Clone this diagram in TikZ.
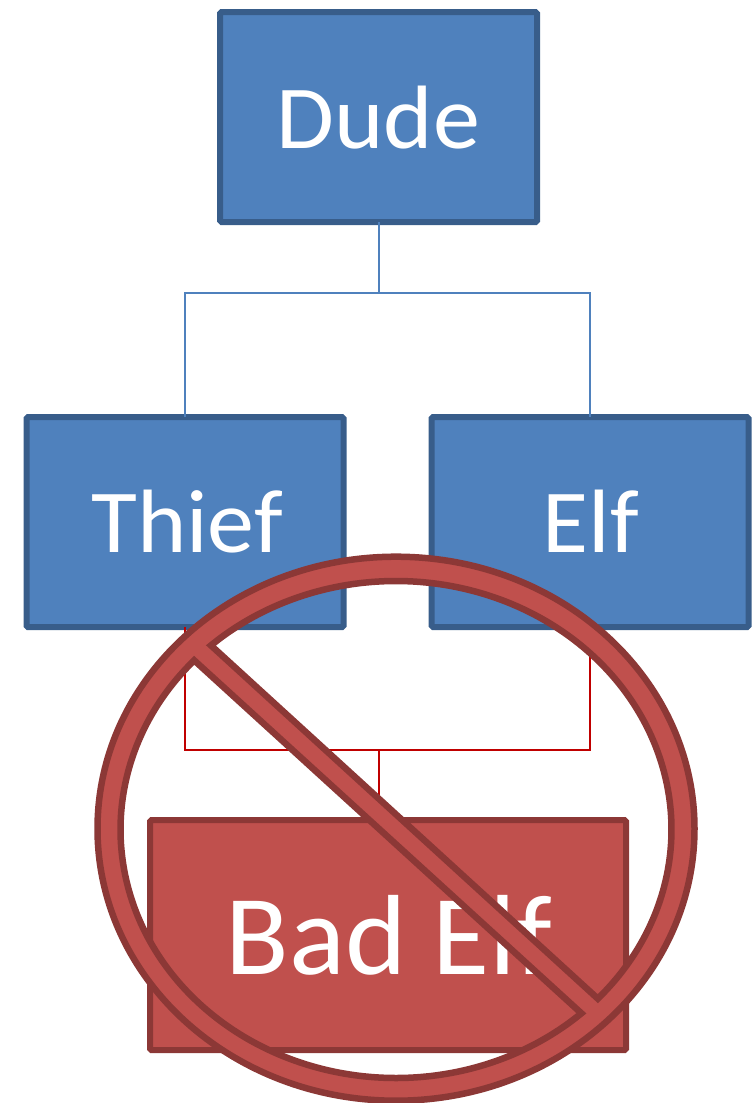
\documentclass[tikz,border=0pt]{standalone}
\usepackage{fontspec}
\setmainfont{Carlito}
\newfontfamily\widecarlito[FakeStretch=1.045]{Carlito}
\newfontfamily\widercarlito[FakeStretch=1.025]{Carlito}
\definecolor{boxblue}{HTML}{4F81BD}
\definecolor{edgeblue}{HTML}{385D8A}
\definecolor{boxred}{HTML}{C0504D}
\definecolor{edgered}{HTML}{8C3836}
\definecolor{linkred}{HTML}{C00000}
\tikzset{
  basebox/.style={rectangle,rounded corners=1.5pt,line width=6pt,outer sep=0pt,inner sep=0pt,text=white,text depth=0pt,align=center},
  bluebox/.style={basebox,draw=edgeblue,fill=boxblue,minimum width=317pt,minimum height=210pt,font=\widecarlito\fontsize{90}{100}\selectfont},
  redbox/.style={basebox,draw=edgered,fill=boxred,minimum width=476pt,minimum height=230pt,font=\widercarlito\fontsize{114}{125}\selectfont},
  bluelink/.style={draw=boxblue,line width=2pt},
  redlink/.style={draw=linkred,line width=2pt},
  ban/.style={draw=edgered,fill=boxred,line width=6.5pt,even odd rule,miter limit=10}
}
\begin{document}
\begin{tikzpicture}[x=1pt,y=-1pt]
\useasboundingbox (0,0) rectangle (754,1103);
\path[clip] (0,0) rectangle (754,1103);
\coordinate (busTop) at (379,293);
\coordinate (busBottom) at (379,749.5);
\node[bluebox,text height=62pt] (dude) at (378.5,117) {Dude};
\node[bluebox,text height=60pt] (thief) at (185,522) {\hspace*{4pt}Thief};
\node[bluebox,text height=60pt] (elf) at (590,522) {\hspace*{2pt}Elf};
\node[redbox,text height=79pt] (badelf) at (388,935) {\hspace*{2pt}Bad Elf};
\draw[bluelink] (dude.south -| busTop) -- (busTop);
\draw[bluelink] (thief.north) |- (busTop) -| (elf.north);
\draw[redlink] (thief.south) |- (busBottom) -| (elf.south);
\draw[redlink] (busBottom) -- (badelf.north -| busBottom);
\path[ban]
  (396,828.7) ellipse [x radius=298.5,y radius=272]
  plot[domain=227.8:402.9,samples=90,smooth] ({396+275.5*cos(\x)},{829.5+248.5*sin(\x)}) -- cycle
  plot[domain=47.7:222.9,samples=90,smooth] ({396+275.5*cos(\x)},{829.5+248.5*sin(\x)}) -- cycle;
\end{tikzpicture}
\end{document}
